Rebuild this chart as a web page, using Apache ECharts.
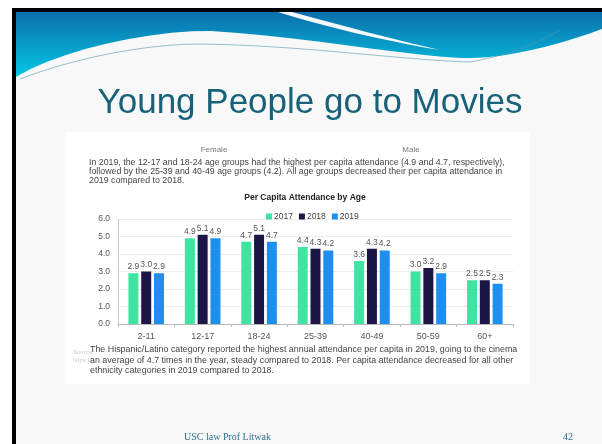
<!DOCTYPE html>
<html>
<head>
<meta charset="utf-8">
<script src="https://cdn.jsdelivr.net/npm/echarts@6/dist/echarts.min.js"></script>
<style>
  html, body { margin: 0; padding: 0; background: #fff; }
  #chart { width: 602px; height: 444px; }
</style>
</head>
<body>
<div id="chart"></div>
<script>
// per capita attendance
const categories = ['2-11', '12-17', '18-24', '25-39', '40-49', '50-59', '60+']
const years = ['2017', '2018', '2019']
const att2017 = [2.9, 4.9, 4.7, 4.4, 3.6, 3.0, 2.5]
const att2018 = [3.0, 5.1, 5.1, 4.3, 4.3, 3.2, 2.5]
const att2019 = [2.9, 4.9, 4.7, 4.2, 4.2, 2.9, 2.3]
const colors = ['#3fe3a2', '#1b1646', '#1f8fef']

const topText = [
  'In 2019, the 12-17 and 18-24 age groups had the highest per capita attendance (4.9 and 4.7, respectively),',
  'followed by the 25-39 and 40-49 age groups (4.2). All age groups decreased their per capita attendance in',
  '2019 compared to 2018.'
]
const bottomText = [
  'The Hispanic/Latino category reported the highest annual attendance per capita in 2019, going to the cinema',
  'an average of 4.7 times in the year, steady compared to 2018. Per capita attendance decreased for all other',
  'ethnicity categories in 2019 compared to 2018.'
]

const chart = echarts.init(document.getElementById('chart'))

const smallFont = 'Liberation Sans, Arial, sans-serif'
const labelStyle = { color: '#555', fontFamily: smallFont }

// turn a chain of cubic curves into polygon points (header decoration only)
function curvePoints(start, segs) {
  const pts = [start]
  let p0 = start
  segs.forEach(s => {
    const [c1, c2, p3] = s
    for (let t = 0.1; t <= 1.0001; t += 0.1) {
      const u = 1 - t
      pts.push([
        u * u * u * p0[0] + 3 * u * u * t * c1[0] + 3 * u * t * t * c2[0] + t * t * t * p3[0],
        u * u * u * p0[1] + 3 * u * u * t * c1[1] + 3 * u * t * t * c2[1] + t * t * t * p3[1]
      ])
    }
    p0 = p3
  })
  return pts
}

const waveEdge = curvePoints([602, 29], [
  [[560, 45], [500, 60], [461, 58]],
  [[400, 55], [300, 36], [211, 31]],
  [[150, 30], [60, 50], [16, 77]]
])
const wavePoly = [[16, 12], [602, 12]].concat(waveEdge)
const stripePoly = [[278, 12], [292, 12]]
  .concat(curvePoints([292, 12], [[[340, 25], [395, 40], [440, 50]]]).slice(1))
  .concat(curvePoints([440, 50], [[[390, 42], [325, 27], [278, 12]]]).slice(1))
const thinLine = curvePoints([20, 79], [
  [[80, 56], [150, 44], [200, 44]],
  [[300, 45], [400, 60], [470, 62]],
  [[510, 55], [540, 42], [560, 30]]
])

function textLine(str, x, y, extra) {
  return {
    type: 'text', x: x, y: y, z: 5,
    style: Object.assign({ text: str, fontSize: 8, fill: '#444', fontFamily: smallFont, verticalAlign: 'middle' }, extra || {})
  }
}

const graphics = [
  // slide background + black edges
  { type: 'rect', shape: { x: 12, y: 8, width: 590, height: 436 }, style: { fill: '#f8f8f8' }, z: -10 },
  { type: 'rect', shape: { x: 12, y: 8, width: 4, height: 436 }, style: { fill: '#000' }, z: 5 },
  { type: 'rect', shape: { x: 12, y: 8, width: 590, height: 4 }, style: { fill: '#000' }, z: 5 },
  // header wave
  {
    type: 'polygon', z: -5,
    shape: { points: wavePoly },
    style: {
      fill: new echarts.graphic.LinearGradient(0, 0, 0, 1, [
        { offset: 0, color: '#0b6fac' }, { offset: 1, color: '#05c8e4' }
      ])
    }
  },
  { type: 'polygon', z: -4, shape: { points: stripePoly }, style: { fill: 'rgba(255,255,255,0.95)' } },
  { type: 'polyline', z: -4, shape: { points: thinLine }, style: { stroke: 'rgba(90,150,170,0.6)', lineWidth: 1 } },
  // slide title
  {
    type: 'text', x: 310, y: 121, z: 5,
    style: { text: 'Young People go to Movies', fontSize: 35, fill: '#17627a', fontFamily: 'Liberation Sans, Arial, sans-serif', align: 'center', verticalAlign: 'bottom' }
  },
  // pasted picture area
  { type: 'rect', shape: { x: 65, y: 132, width: 465, height: 252 }, style: { fill: '#ffffff' }, z: -3 },
  textLine('Female', 214, 150, { align: 'center', fill: '#777' }),
  textLine('Male', 411, 150, { align: 'center', fill: '#777' }),
  textLine(topText[0], 89, 163, { fontSize: 8.8 }),
  textLine(topText[1], 89, 172, { fontSize: 8.8 }),
  textLine(topText[2], 89, 181, { fontSize: 8.8 }),
  textLine('Per Capita Attendance by Age', 305, 198, { align: 'center', fontWeight: 'bold', fill: '#222', fontSize: 8.5 }),
  textLine('Source:', 73, 352, { fill: '#ccc', fontSize: 6 }),
  textLine('https://', 73, 360, { fill: '#ccc', fontSize: 6 }),
  textLine(bottomText[0], 90, 350, { fontSize: 8.9 }),
  textLine(bottomText[1], 90, 360.5, { fontSize: 8.9 }),
  textLine(bottomText[2], 90, 371, { fontSize: 8.9 }),
  // footer
  textLine('USC law Prof Litwak', 184, 437, { fontFamily: 'Liberation Serif, serif', fontSize: 10, fill: '#2f6f8c' }),
  textLine('42', 563, 437, { fontFamily: 'Liberation Serif, serif', fontSize: 10, fill: '#2f6f8c' })
]

const option = {
  animation: false,
  color: colors,
  textStyle: { fontFamily: smallFont },
  legend: {
    data: years,
    top: 207,
    left: 261,
    icon: 'rect',
    itemWidth: 6,
    itemHeight: 6,
    itemGap: 6,
    textStyle: { fontSize: 8.5, color: '#444', padding: [0, 0, 0, -3] }
  },
  grid: { left: 118, top: 219, width: 395, height: 105 },
  xAxis: {
    type: 'category',
    data: categories,
    axisLine: { lineStyle: { color: '#bbb' } },
    axisTick: { show: true, length: 3, lineStyle: { color: '#bbb' } },
    axisLabel: Object.assign({ margin: 8, fontSize: 9 }, labelStyle)
  },
  yAxis: {
    type: 'value',
    min: 0, max: 6, interval: 1,
    axisLine: { show: true, lineStyle: { color: '#ccc' } },
    splitLine: { lineStyle: { color: '#ececec' } },
    axisLabel: Object.assign({ margin: 8, fontSize: 8.5, formatter: v => v.toFixed(1) }, labelStyle)
  },
  series: [att2017, att2018, att2019].map((vals, i) => ({
    name: years[i],
    type: 'bar',
    data: vals,
    barWidth: 10,
    barGap: '28%',
    label: {
      show: true, position: 'top', distance: 2,
      formatter: p => p.value.toFixed(1),
      fontSize: 8.5, color: '#555'
    }
  })),
  graphic: graphics
}
chart.setOption(option)
</script>
</body>
</html>
